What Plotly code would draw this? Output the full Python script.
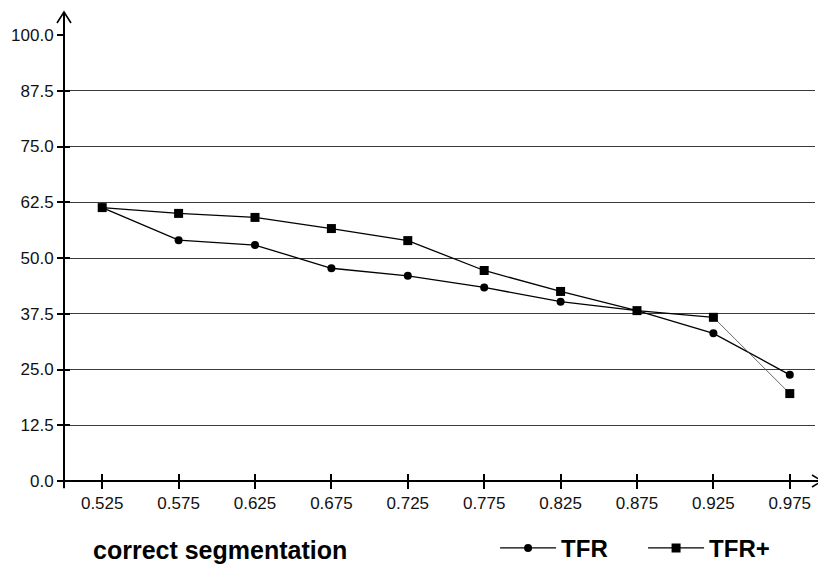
import plotly.graph_objects as go

# ---- data ----
x_vals = [0.525, 0.575, 0.625, 0.675, 0.725, 0.775, 0.825, 0.875, 0.925, 0.975]
x_labels = ["0.525", "0.575", "0.625", "0.675", "0.725", "0.775", "0.825", "0.875", "0.925", "0.975"]
tfr = [61.3, 54.0, 52.9, 47.7, 46.0, 43.4, 40.2, 38.2, 33.1, 23.8]
tfr_plus = [61.3, 60.0, 59.1, 56.6, 53.9, 47.2, 42.5, 38.2, 36.7, 19.6]
y_ticks = [0.0, 12.5, 25.0, 37.5, 50.0, 62.5, 75.0, 87.5, 100.0]
y_labels = ["0.0", "12.5", "25.0", "37.5", "50.0", "62.5", "75.0", "87.5", "100.0"]

FONT = "Liberation Sans, Arial, sans-serif"
INK = "#000000"

fig = go.Figure()

fig.add_trace(go.Scatter(
    x=x_vals, y=tfr, name="TFR", mode="lines+markers",
    line=dict(color=INK, width=1.3),
    marker=dict(symbol="circle", size=8, color=INK),
))
# thin final segment of TFR+
fig.add_trace(go.Scatter(
    x=x_vals[-2:], y=tfr_plus[-2:], mode="lines", showlegend=False,
    line=dict(color="#444444", width=0.8), hoverinfo="skip",
))
fig.add_trace(go.Scatter(
    x=x_vals[:-1], y=tfr_plus[:-1], name="TFR+", mode="lines+markers",
    line=dict(color=INK, width=1.3),
    marker=dict(symbol="square", size=9, color=INK),
))
fig.add_trace(go.Scatter(
    x=x_vals[-1:], y=tfr_plus[-1:], mode="markers", showlegend=False,
    marker=dict(symbol="square", size=9, color=INK),
))
# invisible trace to activate overlay axes (for crossing ticks)
fig.add_trace(go.Scatter(
    x=x_vals[:1], y=y_ticks[:1], xaxis="x2", yaxis="y2", mode="markers",
    marker=dict(opacity=0), showlegend=False, hoverinfo="skip",
))

x_range = [0.5, 0.9915]
# page has an 8px body margin: figure sized/offset to compensate
fig.update_layout(
    width=818, height=558,
    margin=dict(l=56, r=11, t=27, b=85, autoexpand=False),
    paper_bgcolor="white", plot_bgcolor="white",
    font=dict(family=FONT, color=INK, size=17),
    xaxis=dict(
        range=x_range, tickvals=x_vals, ticktext=x_labels,
        ticks="outside", ticklen=7, tickwidth=2, tickcolor=INK,
        showgrid=False, zeroline=False, showline=False,
        tickfont=dict(size=17, color="#111"),
    ),
    yaxis=dict(
        range=[0, 100], tickvals=y_ticks, ticktext=y_labels,
        ticks="outside", ticklen=6, tickwidth=2, tickcolor=INK,
        showgrid=True, gridcolor="#3a3a3a", gridwidth=1,
        zeroline=False, showline=False,
        tickfont=dict(size=17, color="#111"),
    ),
    xaxis2=dict(
        range=x_range, overlaying="x", anchor="y2", side="bottom",
        tickvals=x_vals, showticklabels=False,
        ticks="inside", ticklen=7, tickwidth=2, tickcolor=INK,
        showgrid=False, zeroline=False, showline=False,
    ),
    yaxis2=dict(
        range=[0, 100], overlaying="y", anchor="x2", side="left",
        tickvals=y_ticks, showticklabels=False,
        ticks="inside", ticklen=6, tickwidth=2, tickcolor=INK,
        showgrid=False, zeroline=False, showline=False,
    ),
    legend=dict(
        orientation="h", x=0.574, xanchor="left", y=-0.151, yanchor="middle",
        font=dict(family=FONT, size=24, color=INK, weight="bold"),
        bgcolor="rgba(0,0,0,0)", entrywidth=77, entrywidthmode="pixels",
        itemwidth=56, tracegroupgap=0,
    ),
    showlegend=True,
)

# axis lines with arrows (paper coordinates)
fig.add_shape(type="line", xref="paper", yref="paper", x0=0, y0=-0.016, x1=0, y1=1.0516,
              line=dict(color=INK, width=2))
fig.add_shape(type="line", xref="paper", yref="paper", x0=0, y0=0, x1=1.0093, y1=0,
              line=dict(color=INK, width=2))
fig.add_shape(type="path", xref="paper", yref="paper",
              path="M -0.00932,1.027 L 0,1.0516 L 0.00932,1.027",
              line=dict(color=INK, width=1.6))
fig.add_shape(type="path", xref="paper", yref="paper",
              path="M 0.996,0.01345 L 1.0093,0 L 0.996,-0.01345",
              line=dict(color=INK, width=1.6))

fig.add_annotation(
    text="<b>correct segmentation</b>", xref="paper", yref="paper",
    x=0.036, y=-0.155, xanchor="left", yanchor="middle", showarrow=False,
    font=dict(family=FONT, size=25, color=INK),
)

fig.write_html("out.html")
